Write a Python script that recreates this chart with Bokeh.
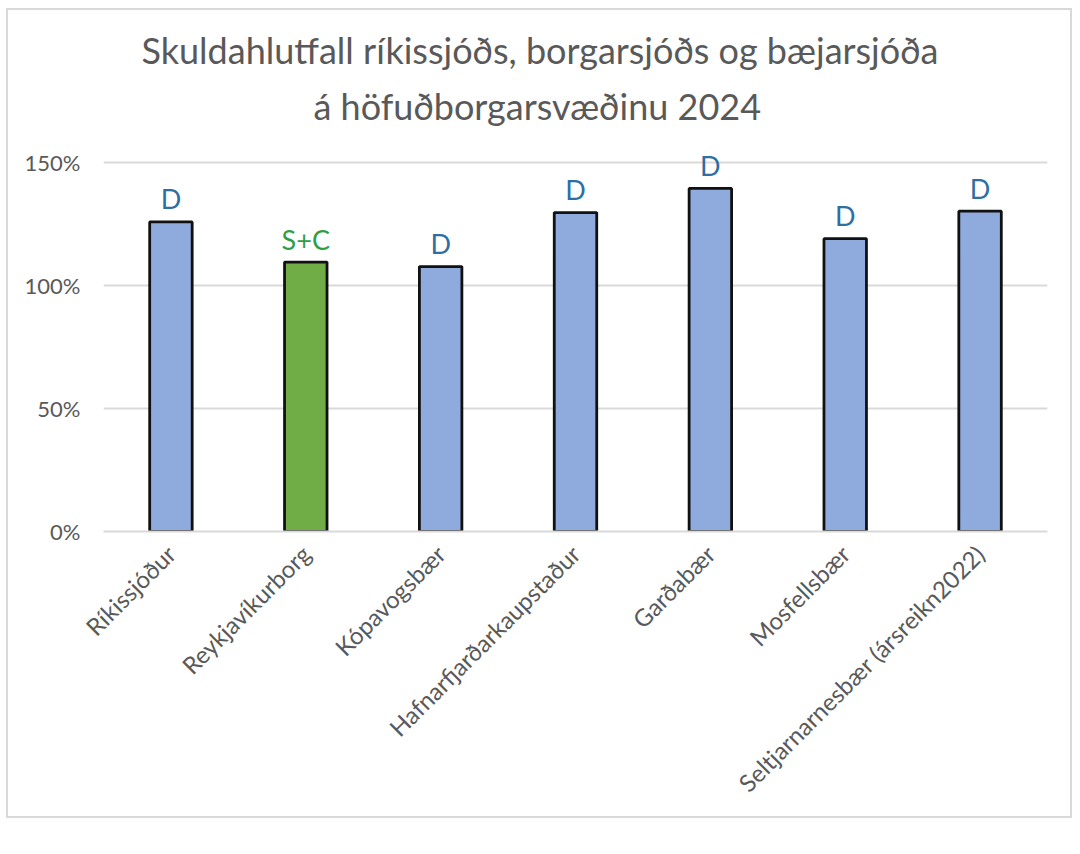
import math
from bokeh.plotting import figure
from bokeh.models import ColumnDataSource, Range1d, FactorRange, NumeralTickFormatter, FixedTicker, Title
from bokeh.core.properties import value
from bokeh.embed import file_html
from bokeh.resources import INLINE

categories = ["Ríkissjóður", "Reykjavíkurborg", "Kópavogsbær", "Hafnarfjarðarkaupstaður",
              "Garðabær", "Mosfellsbær", "Seltjarnarnesbær (ársreikn2022)"]
debt_ratio = [1.257, 1.094, 1.076, 1.295, 1.393, 1.189, 1.301]
rating_labels = ["D", "S+C", "D", "D", "D", "D", "D"]
bar_colors = ["#8faadc", "#70ad47", "#8faadc", "#8faadc", "#8faadc", "#8faadc", "#8faadc"]
label_colors = ["#2e6fa3", "#2f9e46", "#2e6fa3", "#2e6fa3", "#2e6fa3", "#2e6fa3", "#2e6fa3"]
y_ticks = [0, 0.5, 1.0, 1.5]
title_lines = ["Skuldahlutfall ríkissjóðs, borgarsjóðs og bæjarsjóða", "á höfuðborgarsvæðinu 2024"]

FONT = "Lato"
src = ColumnDataSource(dict(cat=categories, val=debt_ratio, lab=rating_labels,
                            col=bar_colors, lcol=label_colors))

p = figure(width=1066, height=810, x_range=FactorRange(*categories, range_padding=0),
           y_range=Range1d(0, 1.6), output_backend="svg", toolbar_location=None,
           title_location=None,
           min_border_left=95, min_border_right=27, min_border_top=127, min_border_bottom=289)
p.margin = (8, 0, 0, 6)
p.styles = {"border": "2px solid #d9d9d9"}
p.background_fill_color = "white"
p.border_fill_color = "white"
p.outline_line_color = None

p.vbar(x="cat", top="val", width=0.315, bottom=0, source=src, fill_color="col",
       line_color="#111111", line_width=2.8)
p.text(x="cat", y="val", text="lab", source=src, text_color="lcol", text_align="center",
       text_baseline="alphabetic", y_offset=-23, text_font=value(FONT), text_font_size="27px")

p.xgrid.grid_line_color = None
p.ygrid.grid_line_color = "#d9d9d9"
p.ygrid.grid_line_width = 2
p.yaxis.ticker = FixedTicker(ticks=y_ticks)
p.yaxis.formatter = NumeralTickFormatter(format="0%")
for ax in (p.xaxis[0], p.yaxis[0]):
    ax.major_tick_line_color = None
    ax.minor_tick_line_color = None
    ax.major_label_text_color = "#595959"
    ax.major_label_text_font = FONT
p.yaxis.major_label_text_font_size = "22px"
p.xaxis.major_label_text_font_size = "24px"
p.yaxis.axis_line_color = None
p.yaxis.major_label_standoff = 17
p.xaxis.axis_line_color = "#d9d9d9"
p.xaxis.axis_line_width = 2
p.xaxis.major_label_orientation = math.pi / 4
p.xaxis.major_label_standoff = 12

title_offsets = [38, 210]
title_standoffs = [0, 20]
for i in (1, 0):
    p.add_layout(Title(text=title_lines[i], align="left", offset=title_offsets[i], text_font=FONT,
                       text_font_size="36px", text_font_style="normal", text_color="#595959",
                       standoff=title_standoffs[i]), "above")

open("out.html", "w").write(file_html(p, INLINE))
